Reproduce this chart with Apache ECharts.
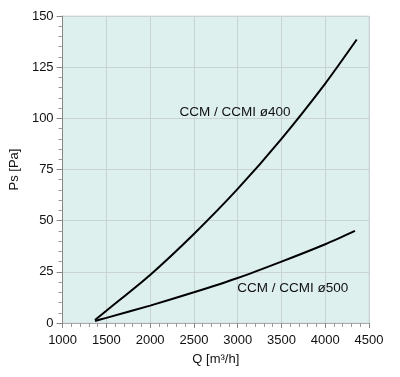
<!DOCTYPE html>
<html>
<head>
<meta charset="utf-8">
<script src="https://cdn.jsdelivr.net/npm/echarts@6/dist/echarts.min.js"></script>
<style>
  html, body { margin: 0; padding: 0; background: #fff; }
  #chart { width: 400px; height: 377px; }
</style>
</head>
<body>
<div id="chart"></div>
<script>
// Q [m3/h] vs Ps [Pa]
var ccm400 = [
  [1370, 1.5], [1500, 6], [2000, 23.5], [2500, 43.5], [3000, 65.5],
  [3500, 90], [4000, 117], [4360, 138.5]
];
var ccm500 = [
  [1370, 1], [1500, 2.5], [2000, 8.5], [2500, 15], [3000, 22],
  [3500, 30], [4000, 38.5], [4340, 45]
];
var labels = ["CCM / CCMI ø400", "CCM / CCMI ø500"];
var labelPos = [[2970, 103], [3630, 17]];

var chart = echarts.init(document.getElementById("chart"));

var font = "Liberation Sans, Arial, sans-serif";

function curve(name, data, i) {
  return {
    name: name,
    type: "line",
    data: data,
    smooth: 0.25,
    showSymbol: false,
    lineStyle: { color: "#000", width: 2 },
    markPoint: {
      symbolSize: 0,
      label: {
        show: true,
        position: "inside",
        formatter: name,
        color: "#111",
        fontSize: 13.5,
        fontFamily: font
      },
      data: [{ coord: labelPos[i] }]
    },
    z: 3
  };
}

var option = {
  animation: false,
  grid: {
    left: 61,
    right: 31,
    top: 16,
    bottom: 54,
    show: true,
    backgroundColor: "#ddf0ee",
    borderColor: "#d4dcdc",
    borderWidth: 1
  },
  xAxis: {
    type: "value",
    min: 1000,
    max: 4500,
    interval: 500,
    name: "Q [m³/h]",
    nameLocation: "middle",
    nameGap: 30,
    nameTextStyle: { color: "#111", fontSize: 13, fontFamily: font },
    axisLine: { show: true, lineStyle: { color: "#aaa" } },
    axisTick: { show: true, length: 5, lineStyle: { color: "#888" } },
    minorTick: { show: true, splitNumber: 5, length: 4, lineStyle: { color: "#999" } },
    axisLabel: {
      color: "#111", fontSize: 13, fontFamily: font, margin: 11,
      formatter: function (v) { return String(v); }
    },
    splitLine: { show: true, lineStyle: { color: "#c9d3d3", width: 1 } }
  },
  yAxis: {
    type: "value",
    min: 0,
    max: 150,
    interval: 25,
    name: "Ps [Pa]",
    nameLocation: "middle",
    nameGap: 36,
    nameTextStyle: { color: "#111", fontSize: 13, fontFamily: font },
    axisLine: { show: true, lineStyle: { color: "#888" } },
    axisTick: { show: true, length: 6, lineStyle: { color: "#888" } },
    minorTick: { show: true, splitNumber: 5, length: 4, lineStyle: { color: "#999" } },
    axisLabel: { color: "#111", fontSize: 13, fontFamily: font, margin: 9 },
    splitLine: { show: true, lineStyle: { color: "#c9d3d3", width: 1 } }
  },
  series: [
    curve(labels[0], ccm400, 0),
    curve(labels[1], ccm500, 1)
  ]
};

chart.setOption(option);
</script>
</body>
</html>
